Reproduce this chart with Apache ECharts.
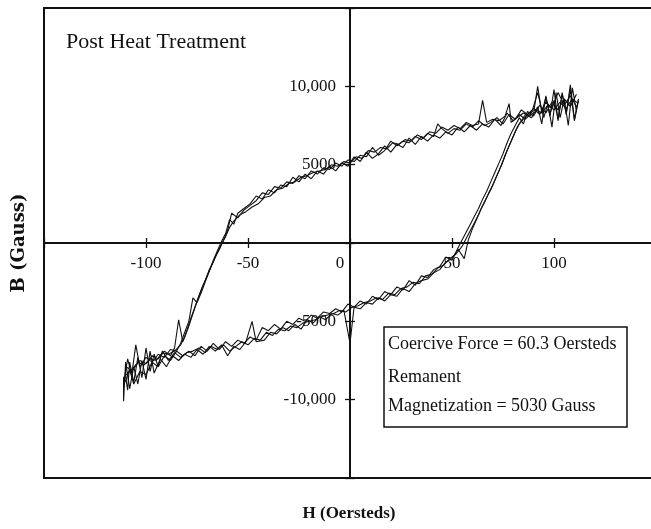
<!DOCTYPE html>
<html><head><meta charset="utf-8">
<script src="https://cdn.jsdelivr.net/npm/echarts@6/dist/echarts.min.js"></script>
<style>html,body{margin:0;padding:0;background:#fff}#c{width:651px;height:529px}</style>
</head><body><div id="c"></div>
<script>
// Hysteresis traces, [H (Oersteds), B (Gauss)]
const loop1 = [
[112,9100],[110,7800],[108,9800],[106,8300],[104,9500],[102,7900],[100,9100],[98,8200],[96,9300],[94,8300],[92,10000],[90,8300],[88,8100],[85,8300],[82,8000],[79,7700],[78,8900],[76,8100],[73,7800],[70,7900],[67,7700],[65,9100],[63,7600],[60,7500],[57,7700],[54,7300],[51,7500],[48,7200],[45,7400],[42,7000],[39,7100],[36,6700],[33,6900],[30,6500],[27,6600],[24,6300],[21,6400],[18,6000],[15,6100],[12,5800],[9,5900],[6,5400],[3,5500],[0,5100],[-3,5200],[-6,4900],[-9,5000],[-12,4700],[-15,4600],[-18,4500],[-21,4300],[-24,4200],[-27,3900],[-30,3800],[-33,3500],[-36,3400],[-39,3000],[-42,2900],[-45,2500],[-48,2300],[-51,2000],[-54,1800],[-57,1400],[-59,1000],[-61,400],[-63,-100],[-65,-600],[-67,-1200],[-69,-1700],[-71,-2400],[-73,-3000],[-75,-3700],[-77,-4500],[-79,-5300],[-81,-6000],[-83,-6500],[-86,-6900],[-89,-7100],[-92,-7000],[-95,-7500],[-98,-7400],[-101,-7800],[-104,-7600],[-107,-8100],[-110,-7900],
[-110,-8500],[-109,-9400],[-108,-7600],[-106,-8900],[-104,-7300],[-102,-8600],[-100,-6700],[-98,-8200],[-96,-7100],[-94,-7900],[-92,-6900],[-89,-7500],[-86,-7000],[-83,-7300],[-80,-7000],[-77,-6900],[-74,-6700],[-71,-7000],[-68,-6600],[-65,-6800],[-62,-6500],[-59,-6900],[-56,-6600],[-53,-6300],[-50,-6500],[-47,-6100],[-44,-6200],[-41,-5700],[-38,-5900],[-35,-5500],[-32,-5600],[-29,-5300],[-26,-5400],[-23,-5100],[-20,-5000],[-17,-4900],[-14,-4700],[-11,-4600],[-8,-4500],[-5,-4300],[-2,-4400],[1,-4100],[4,-4000],[7,-3800],[10,-3700],[13,-3500],[16,-3600],[19,-3200],[22,-3300],[25,-2900],[28,-2800],[31,-2500],[34,-2600],[37,-2100],[40,-2000],[43,-1600],[46,-1400],[49,-1000],[52,-700],[55,-200],[57,300],[59,800],[61,1300],[63,1800],[65,2400],[67,2900],[69,3400],[71,4000],[73,4600],[75,5200],[77,5900],[79,6500],[81,7100],[83,7600],[85,7900],[88,8300],[91,8500],[94,8300],[97,8800],[100,8500],[103,9000],[106,8600],[109,9200],[112,8900]
];
const loop2 = [
[111,8700],[108,9400],[105,8800],[102,9600],[99,8600],[96,9000],[93,8200],[90,8600],[87,8200],[84,8500],[81,7900],[78,8200],[75,7600],[72,8000],[69,7700],[66,7500],[63,7800],[60,7400],[57,7600],[54,7200],[51,7300],[48,7000],[45,7300],[43,7600],[41,6800],[38,7000],[35,6600],[32,6800],[29,6400],[26,6500],[23,6200],[20,6500],[17,5900],[14,5600],[11,6100],[8,5500],[5,5600],[2,5200],[-1,5300],[-4,4900],[-7,5100],[-10,4700],[-13,4800],[-16,4400],[-19,4600],[-22,4100],[-25,4300],[-28,3800],[-31,3900],[-34,3500],[-37,3600],[-40,3100],[-43,3200],[-46,2700],[-49,2400],[-52,2100],[-55,1600],[-58,1900],[-60,800],[-62,200],[-64,-400],[-66,-900],[-68,-1500],[-70,-2100],[-72,-2700],[-74,-3400],[-76,-4100],[-78,-4800],[-80,-5600],[-82,-6300],[-84,-4900],[-86,-6700],[-88,-7200],[-91,-6900],[-94,-7400],[-97,-7200],[-100,-7700],[-103,-7500],[-106,-8000],[-109,-8300],
[-111,-8600],[-111,-10100],[-110,-7600],[-108,-9300],[-106,-7900],[-104,-9000],[-102,-7500],[-100,-8700],[-98,-6900],[-96,-8300],[-93,-7400],[-90,-7900],[-87,-7200],[-84,-7500],[-81,-7100],[-78,-7300],[-75,-6800],[-72,-7100],[-69,-6600],[-66,-6900],[-63,-6500],[-60,-7200],[-57,-6600],[-54,-6800],[-51,-6300],[-48,-5000],[-46,-6300],[-42,-6200],[-39,-5700],[-36,-5800],[-33,-5400],[-30,-5600],[-27,-5200],[-24,-5500],[-21,-4900],[-18,-5100],[-15,-4700],[-12,-4900],[-9,-4500],[-6,-4600],[-3,-4300],[0,-6400],[2,-4100],[5,-4200],[8,-3800],[11,-3900],[14,-3500],[17,-3700],[20,-3300],[23,-3400],[26,-2900],[29,-3100],[32,-2600],[35,-2400],[38,-2300],[41,-1900],[44,-1700],[47,-1200],[50,-1000],[53,-400],[56,-1000],[58,200],[60,900],[62,1500],[64,2100],[66,2600],[68,3200],[70,3700],[72,4300],[74,4900],[76,5600],[78,6200],[80,6800],[82,7400],[84,7800],[86,8200],[89,8000],[92,8700],[94,7600],[96,9400],[98,8100],[100,9800],[102,7800],[104,9600],[106,8200],[108,10100],[110,7900],[112,9200]
];
const loop3 = [
[111,8400],[109,9900],[107,7500],[105,9200],[103,8000],[101,9600],[99,7400],[97,8900],[95,8000],[92,9600],[89,8300],[86,7900],[83,8200],[80,7800],[77,8300],[74,7500],[71,7900],[68,7400],[65,7600],[62,7200],[59,7500],[56,7100],[53,7400],[50,6900],[47,7100],[44,6700],[41,6900],[38,6500],[35,6800],[32,6300],[29,6700],[26,6100],[23,6300],[20,5800],[17,6200],[14,5700],[11,5400],[8,5800],[5,5200],[2,5500],[-1,4900],[-4,5100],[-7,4600],[-10,4900],[-13,4400],[-16,4600],[-19,4100],[-22,4400],[-25,3900],[-28,4200],[-31,3600],[-34,3700],[-37,3200],[-40,3400],[-43,2800],[-46,3000],[-49,2500],[-52,2200],[-55,1900],[-57,1200],[-59,1500],[-61,600],[-63,100],[-65,-500],[-67,-1100],[-69,-1800],[-71,-2500],[-73,-3200],[-75,-3800],[-77,-3500],[-79,-5000],[-81,-5700],[-83,-6400],[-85,-6900],[-88,-6800],[-91,-7300],[-94,-7100],[-97,-7600],[-100,-7300],[-103,-7900],[-105,-6500],[-107,-8400],[-109,-7400],[-111,-9000],
[-110,-8800],[-108,-8100],[-106,-9000],[-103,-8200],[-100,-8400],[-97,-7600],[-94,-7900],[-91,-7200],[-88,-7500],[-85,-6900],[-82,-7200],[-79,-6900],[-76,-7200],[-73,-6600],[-70,-6900],[-67,-6400],[-64,-6800],[-61,-6300],[-58,-6600],[-55,-6200],[-52,-6400],[-49,-6000],[-46,-6200],[-43,-5400],[-40,-5600],[-37,-5200],[-34,-5500],[-31,-5000],[-28,-5200],[-25,-4800],[-22,-5000],[-19,-4600],[-16,-4800],[-13,-4400],[-10,-4500],[-7,-4200],[-4,-4400],[-1,-3900],[2,-4100],[5,-3700],[8,-3900],[11,-3400],[14,-3600],[17,-3100],[20,-3300],[23,-2800],[26,-3000],[29,-2400],[32,-2700],[35,-2100],[38,-2200],[41,-1700],[44,-1500],[47,-900],[50,-1100],[53,-300],[55,200],[57,700],[59,1200],[61,1700],[63,2200],[65,2800],[67,3300],[69,3900],[71,4500],[73,5100],[75,5700],[77,6400],[79,7000],[81,7500],[83,8000],[85,7600],[87,8400],[90,8100],[93,8800],[96,8300],[99,9000],[102,8500],[105,9200],[108,8700],[111,9500]
];

const xTickLabels = {'-100':'-100','-50':'-50','0':'0','50':'50','100':'100'};
const yTickLabels = {'10000':'10,000','5000':'5000','-5000':'-5000','-10000':'-10,000'};
const titleText = 'Post Heat Treatment';
const xAxisName = 'H (Oersteds)';
const yAxisName = 'B (Gauss)';
const noteLines = ['Coercive Force = 60.3 Oersteds', 'Remanent', 'Magnetization = 5030 Gauss'];

const serif = '"Liberation Serif", "Times New Roman", serif';
const ink = '#111';
const gridLeft = 44, gridRight = -5, gridTop = 8, gridBottom = 51;
const plotW = 651 - gridLeft - gridRight, plotH = 529 - gridTop - gridBottom;
const chart = echarts.init(document.getElementById('c'), null, {renderer: 'canvas'});

function loopSeries(data) {
  return {type: 'line', data: data, showSymbol: false, symbol: 'none', xAxisIndex: 0, yAxisIndex: 0,
    lineStyle: {color: ink, width: 1.1}, silent: true, z: 3};
}

const option = {
  animation: false,
  backgroundColor: '#fff',
  grid: {left: gridLeft, right: gridRight, top: gridTop, bottom: gridBottom, outerBoundsMode: 'none', containLabel: false,
         show: true, borderColor: ink, borderWidth: 2, backgroundColor: 'transparent'},
  xAxis: [
    {type: 'value', min: -150, max: 150, interval: 50,
     axisLine: {onZero: true, onZeroAxisIndex: 0, lineStyle: {color: ink, width: 2}},
     axisTick: {show: true, length: 5, lineStyle: {color: ink, width: 1.3}},
     splitLine: {show: false}, axisLabel: {show: false}},
    {type: 'value', min: -150, max: 150, interval: 50, position: 'bottom', offset: -plotH / 2,
     axisLine: {show: false, onZero: false},
     axisTick: {show: true, inside: true, length: 5, lineStyle: {color: ink, width: 1.3}},
     splitLine: {show: false},
     axisLabel: {margin: 12, color: ink, fontFamily: serif, fontSize: 17,
       formatter: function (v) { return v === 0 ? '{z|0}' : (xTickLabels[String(v)] || ''); },
       rich: {z: {fontFamily: serif, fontSize: 17, color: ink, padding: [0, 20, 0, 0]}}}}
  ],
  yAxis: [
    {type: 'value', min: -15000, max: 15000, interval: 5000,
     axisLine: {onZero: true, onZeroAxisIndex: 0, lineStyle: {color: ink, width: 2}},
     axisTick: {show: true, length: 5, lineStyle: {color: ink, width: 1.3}},
     splitLine: {show: false}, axisLabel: {show: false}},
    {type: 'value', min: -15000, max: 15000, interval: 5000, position: 'left', offset: -plotW / 2,
     axisLine: {show: false, onZero: false},
     axisTick: {show: true, inside: true, length: 5, lineStyle: {color: ink, width: 1.3}},
     splitLine: {show: false},
     axisLabel: {margin: 14, color: ink, fontFamily: serif, fontSize: 17,
       formatter: function (v) { return yTickLabels[String(v)] || ''; }}}
  ],
  series: [loopSeries(loop1), loopSeries(loop2), loopSeries(loop3)],
  graphic: [
    {type: 'text', left: 66, top: 31, style: {text: titleText, font: '22px ' + serif, fill: ink}},
    {type: 'rect', shape: {x: 384, y: 327, width: 243, height: 100}, style: {fill: '#fff', stroke: ink, lineWidth: 1.5}, z: 10},
    {type: 'text', x: 388, y: 344, z: 11, style: {text: noteLines[0], font: '18px ' + serif, fill: ink, textAlign: 'left', textVerticalAlign: 'middle'}},
    {type: 'text', x: 388, y: 377, z: 11, style: {text: noteLines[1], font: '18px ' + serif, fill: ink, textAlign: 'left', textVerticalAlign: 'middle'}},
    {type: 'text', x: 388, y: 406, z: 11, style: {text: noteLines[2], font: '18px ' + serif, fill: ink, textAlign: 'left', textVerticalAlign: 'middle'}},
    {type: 'text', x: 349, y: 514, style: {text: xAxisName, font: 'bold 17px ' + serif, fill: ink, textAlign: 'center', textVerticalAlign: 'middle'}},
    {type: 'text', x: 19, y: 243, rotation: Math.PI / 2, style: {text: yAxisName, font: 'bold 18px "DejaVu Serif", serif', fill: ink, textAlign: 'center', textVerticalAlign: 'middle'}}
  ]
};
chart.setOption(option);
</script>
</body></html>
